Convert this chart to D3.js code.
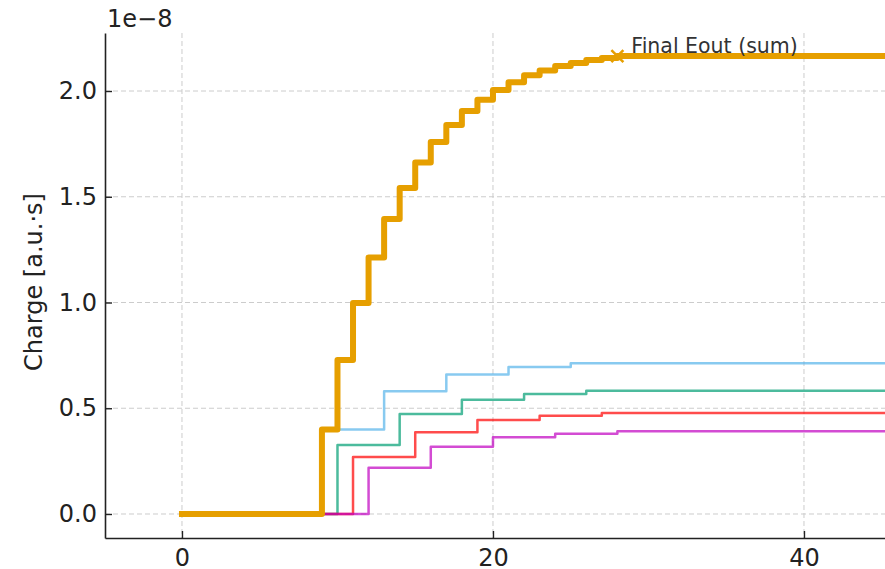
<!DOCTYPE html>
<html>
<head>
<meta charset="utf-8">
<script src="https://cdn.jsdelivr.net/npm/d3@7"></script>
<style>
	body { margin: 0; background: #fff; }
	svg { display: block; overflow: hidden; font-family: 'DejaVu Sans', sans-serif; }
</style>
</head>
<body>
<svg id="chart" width="885" height="569"></svg>
<script>

/////////////////////////////////////////////////////////////////////////
// data (charge in units of 1e-8)

var xEnd = 99

var sumX = [0, 9, 10, 11, 12, 13, 14, 15, 16, 17, 18, 19, 20, 21, 22, 23, 24, 25, 26, 27, 28]
var sumY = [0, 0.400, 0.728, 0.998, 1.213, 1.395, 1.541, 1.662, 1.759, 1.839, 1.905, 1.959, 2.005, 2.042, 2.074, 2.097, 2.118, 2.133, 2.147, 2.156, 2.165]

var blueX = [0, 9, 13, 17, 21, 25]
var blueY = [0, 0.400, 0.580, 0.660, 0.695, 0.713]

var greenX = [0, 10, 14, 18, 22, 26]
var greenY = [0, 0.326, 0.473, 0.540, 0.567, 0.583]

var redX = [0, 11, 15, 19, 23, 27]
var redY = [0, 0.269, 0.386, 0.444, 0.465, 0.478]

var magentaX = [0, 12, 16, 20, 24, 28]
var magentaY = [0, 0.219, 0.318, 0.363, 0.380, 0.391]

var xTicks = [0, 20, 40, 60, 80, 100]
var yTicks = [0, 0.5, 1.0, 1.5, 2.0]

var finalX = 28
var finalY = 2.165
var finalLabel = 'Final Eout (sum)'
var yLabel = 'Charge [a.u.\u00b7s]'
var offsetLabel = '1e\u22128'

/////////////////////////////////////////////////////////////////////////
// scales

var svg = d3.select('#chart')

var plotLeft = 105, plotTop = 33, plotBottom = 538

var x = d3.scaleLinear().domain([-4.95, 103.95]).range([plotLeft, plotLeft + 108.9 * 15.55])
var y = d3.scaleLinear().domain([-0.1135, 2.2743]).range([plotBottom, plotTop])

function pts(xs, ys) {
	var p = xs.map(function(d, i) { return [d, ys[i]] })
	p.push([xEnd, ys[ys.length - 1]])
	return p
}

var line = d3.line()
	.x(function(d) { return x(d[0]) })
	.y(function(d) { return y(d[1]) })
	.curve(d3.curveStepAfter)

/////////////////////////////////////////////////////////////////////////
// grid

var grid = svg.append('g')
	.attr('stroke', '#cccccc')
	.attr('stroke-width', 1)
	.attr('stroke-dasharray', '5,3')

grid.selectAll('.gx').data(xTicks).enter().append('line')
	.attr('x1', function(d) { return x(d) }).attr('x2', function(d) { return x(d) })
	.attr('y1', plotTop).attr('y2', plotBottom)

grid.selectAll('.gy').data(yTicks).enter().append('line')
	.attr('x1', plotLeft).attr('x2', x.range()[1])
	.attr('y1', function(d) { return y(d) }).attr('y2', function(d) { return y(d) })

/////////////////////////////////////////////////////////////////////////
// series

var comps = [
	{ xs: blueX, ys: blueY, color: '#56B4E9' },
	{ xs: greenX, ys: greenY, color: '#009E73' },
	{ xs: redX, ys: redY, color: '#FF0000' },
	{ xs: magentaX, ys: magentaY, color: '#C000C0' }
]

comps.forEach(function(c) {
	svg.append('path')
		.attr('d', line(pts(c.xs, c.ys)))
		.attr('fill', 'none')
		.attr('stroke', c.color)
		.attr('stroke-opacity', 0.7)
		.attr('stroke-width', 2.5)
		.attr('stroke-linejoin', 'round')
})

svg.append('path')
	.attr('d', line(pts(sumX, sumY)))
	.attr('fill', 'none')
	.attr('stroke', '#E69F00')
	.attr('stroke-width', 6)
	.attr('stroke-linejoin', 'round')
	.attr('stroke-linecap', 'square')

// final marker + annotation
var mx = x(finalX), my = y(finalY), ms = 6
svg.append('path')
	.attr('d', 'M' + (mx - ms) + ',' + (my - ms) + 'L' + (mx + ms) + ',' + (my + ms) +
		'M' + (mx - ms) + ',' + (my + ms) + 'L' + (mx + ms) + ',' + (my - ms))
	.attr('stroke', '#E69F00')
	.attr('stroke-width', 2.5)

svg.append('text')
	.attr('x', mx + 14)
	.attr('y', my - 3)
	.attr('font-size', 20.5)
	.attr('fill', '#333')
	.text(finalLabel)

/////////////////////////////////////////////////////////////////////////
// axes

svg.append('g')
	.attr('transform', 'translate(0,' + plotBottom + ')')
	.call(d3.axisBottom(x).tickValues(xTicks).tickFormat(d3.format('d'))
		.tickSizeInner(-7).tickSizeOuter(0).tickPadding(11))

svg.append('g')
	.attr('transform', 'translate(' + plotLeft + ',0)')
	.call(d3.axisLeft(y).tickValues(yTicks).tickFormat(d3.format('.1f'))
		.tickSizeInner(-7).tickSizeOuter(0).tickPadding(8))

svg.selectAll('.domain').attr('stroke', '#222').attr('stroke-width', 1.6)
svg.selectAll('.tick line').attr('stroke', '#222').attr('stroke-width', 1.4)
svg.selectAll('.tick text').attr('font-size', 24).attr('fill', '#222')
	.attr('font-family', 'DejaVu Sans, sans-serif')

svg.append('text')
	.attr('x', plotLeft + 2)
	.attr('y', 27)
	.attr('font-size', 24)
	.attr('fill', '#222')
	.text(offsetLabel)

svg.append('text')
	.attr('transform', 'translate(42,282) rotate(-90)')
	.attr('text-anchor', 'middle')
	.attr('font-size', 24)
	.attr('fill', '#222')
	.text(yLabel)

</script>
</body>
</html>
